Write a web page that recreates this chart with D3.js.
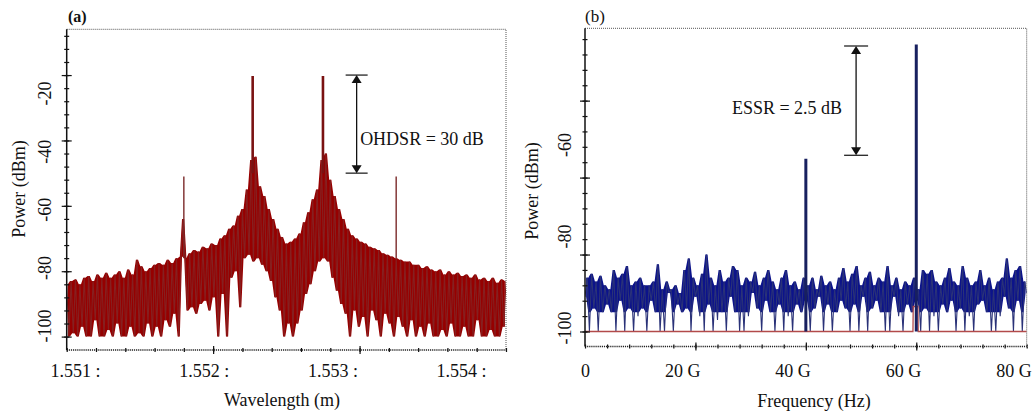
<!DOCTYPE html>
<html><head><meta charset="utf-8">
<script src="https://cdn.jsdelivr.net/npm/d3@7"></script>
<style>
html,body{margin:0;padding:0;background:#fff;}
svg{display:block;font-family:"Liberation Serif","Times New Roman",serif;}
</style></head><body>
<svg id="chart" width="1036" height="415"></svg>
<script>
// ---------- Panel (a): optical spectrum ----------
const aWlStart = 1.551, aWlStep = 0.000015;
const aPower = [
-84,-100,-83,-99,-82.5,-100,-84,-97,-82,-100,
-81.5,-100,-83,-95,-81,-100,-82,-100,-80.5,-98,
-82,-100,-81,-96,-80,-100,-82,-100,-79.5,-97,
-81,-100,-76.5,-99,-78.5,-100,-80,-96,-79,-100,
-78,-97,-77.5,-100,-78,-95,-76.5,-97,-77.5,-93,
-76,-100,-75.5,-64,-76,-92,-74.5,-91,-73.5,-93,
-74,-90,-72.5,-89,-73,-92,-71.5,-88,-72,-100,
-70,-87,-69,-100,-67,-82,-66,-80,-63,-91,
-61,-76,-55,-75,-46,-77,-45,-76,-54,-78,
-57,-80,-61,-83,-64,-88,-67,-92,-69.5,-100,
-71.5,-96,-71,-100,-70,-96,-68.5,-92,-65,-87,
-62,-84,-58,-80,-55,-77,-46,-76,-44,-77,
-52,-82,-57,-86,-61,-90,-64,-93,-67,-100,
-69,-92,-70,-97,-71,-94,-71.5,-100,-72.5,-92,
-73,-95,-73.5,-100,-74.5,-93,-75,-96,-75.5,-100,
-76,-94,-76.5,-97,-77,-100,-77,-95,-78,-100,
-78,-97,-79,-100,-78.5,-96,-79.5,-100,-80,-100,
-79.5,-98,-81,-100,-80,-96,-81,-100,-80.5,-100,
-81.5,-97,-81,-100,-82,-100,-81,-95,-82.5,-100,
-82,-100,-83,-98,-82,-100,-83.5,-100,-82.5,-97,
-83];
const aSpikeWl   = [1.55180, 1.55227, 1.55275, 1.55325];
const aSpikeTop  = [-51, -20.3, -20.3, -51];
const aSpikeBase = [-76, -50, -50, -76];
const aXTicks = [1.551, 1.552, 1.553, 1.554];
const aYTicks = [-20, -40, -60, -80, -100];
const aNoteWl = 1.55298, aNoteTop = -20, aNoteBottom = -50, aNoteTextDb = -39.5;
const aNoteText = "OHDSR = 30 dB";

// ---------- Panel (b): electrical spectrum ----------
const bFreqStep = 0.4e9;
const bPower = [
-91,-86,-100,-85,-94,-87,-100,-85.5,-95,-88,
-93,-89,-95,-84,-100,-86,-92,-85,-100,-83,
-94,-88,-100,-87,-96,-86,-94,-88,-100,-88,
-92,-87,-95,-82.5,-100,-89,-100,-87,-90,-89,
-100,-88,-93,-90,-95,-84,-94,-81,-100,-86,
-91,-88,-96,-85,-100,-80,-93,-86,-100,-88,
-97,-84,-95,-87,-100,-86,-91,-83,-95,-84,
-100,-88,-100,-86,-96,-87,-90,-84.5,-94,-88,
-100,-86,-92,-84,-95,-87,-100,-89,-93,-86,
-100,-84,-96,-88,-100,-87,-93,-89,-95,-86,
-92,-88,-100,-86,-94,-89,-91,-85.5,-100,-88,
-93,-87,-100,-89,-95,-86,-92,-83.5,-94,-87,
-100,-85,-93,-83,-100,-88,-91,-86,-100,-84.5,
-94,-88,-92,-86,-95,-87,-100,-83,-100,-88,
-91,-86,-96,-89,-100,-87,-93,-88,-95,-86,
-92,-89,-100,-84,-94,-85,-100,-84,-96,-87,
-100,-88,-93,-86,-95,-83.5,-92,-87,-100,-88,
-94,-83,-100,-86,-96,-88,-100,-87,-93,-84,
-92,-88,-95,-86,-100,-89,-100,-87,-96,-86,
-91,-81,-94,-86,-100,-84,-92,-83,-100,-87,
-90];
const bSpikeFreq = [40e9, 60e9];
const bSpikeTop  = [-55.1, -25.4];
const bRefFreq  = [0, 59.4e9, 59.45e9, 60.3e9, 60.35e9, 80e9];
const bRefPower = [-100, -100, -93.5, -93.5, -100, -100];
const bXTicks = [0, 20e9, 40e9, 60e9, 80e9];
const bYTicks = [-60, -80, -100];
const bNoteFreq = 49.1e9, bNoteTop = -25.8, bNoteBottom = -54.2, bNoteTextDb = -42;
const bNoteText = "ESSR = 2.5 dB";

// ---------- drawing ----------
const svg = d3.select("#chart");
const FONT = 18;

const xA = d3.scaleLinear().domain([1.551, 1.554]).range([66.7, 506]);
const yA = d3.scaleLinear().domain([-104.1, -6]).range([350, 29.3]);
const xALab = d3.scaleLinear().domain([1.551, 1.554]).range([75.5, 461.6]);
const yALab = d3.scaleLinear().domain([-100, -20]).range([326, 93.5]);

const xB = d3.scaleLinear().domain([0, 80e9]).range([585, 1026.7]);
const yB = d3.scaleLinear().domain([-103.9, -21.2]).range([346.5, 28.3]);
const yBLab = d3.scaleLinear().domain([-100, -60]).range([328, 145]);

const defs = svg.append("defs");
function clip(id, x, y) {
  defs.append("clipPath").attr("id", id).append("rect")
    .attr("x", x.range()[0]).attr("y", y.range()[1])
    .attr("width", x.range()[1] - x.range()[0]).attr("height", y.range()[0] - y.range()[1]);
}
clip("clipA", xA, yA);
clip("clipB", xB, yB);

function frame(x, y) {
  const [x0, x1] = x.range(), [y0, y1] = y.range();
  svg.append("path").attr("d", `M${x0},${y1}H${x1}V${y0}`)
    .attr("fill", "none").attr("stroke", "#555").attr("stroke-width", 1)
    .attr("stroke-dasharray", "1,1");
}

function leftAxis(y, x0, minor, major) {
  svg.append("line").attr("x1", x0).attr("x2", x0)
    .attr("y1", y.range()[0]).attr("y2", y.range()[1])
    .attr("stroke", "#111").attr("stroke-width", 1.5);
  [[minor, 2.5], [major, 5]].forEach(([vals, len]) => {
    [d3.axisLeft, d3.axisRight].forEach(ax => {
      svg.append("g").attr("transform", `translate(${x0},0)`).attr("color", "#111")
        .call(ax(y).tickValues(vals).tickSize(len).tickFormat(""))
        .call(g => g.select(".domain").remove())
        .selectAll("line").attr("stroke-width", 1.2);
    });
  });
}

function bottomAxis(x, y0, minor, major) {
  svg.append("line").attr("x1", x.range()[0]).attr("x2", x.range()[1])
    .attr("y1", y0).attr("y2", y0)
    .attr("stroke", "#222").attr("stroke-width", 1.3).attr("stroke-dasharray", "1.2,0.9");
  [[minor, 2], [major, 4]].forEach(([vals, len]) => {
    [d3.axisBottom, d3.axisTop].forEach(ax => {
      svg.append("g").attr("transform", `translate(0,${y0})`).attr("color", "#111")
        .call(ax(x).tickValues(vals).tickSize(len).tickFormat(""))
        .call(g => g.select(".domain").remove())
        .selectAll("line").attr("stroke-width", 1.2);
    });
  });
}

function arrow(g, x, yTop, yBot, half) {
  g.append("line").attr("x1", x - half).attr("x2", x + half).attr("y1", yTop).attr("y2", yTop)
    .attr("stroke", "#111").attr("stroke-width", 1.2);
  g.append("line").attr("x1", x - half).attr("x2", x + half).attr("y1", yBot).attr("y2", yBot)
    .attr("stroke", "#111").attr("stroke-width", 1.2);
  g.append("line").attr("x1", x).attr("x2", x).attr("y1", yTop + 6).attr("y2", yBot - 6)
    .attr("stroke", "#111").attr("stroke-width", 1.3);
  g.append("path").attr("d", `M${x},${yTop}L${x - 5},${yTop + 8}L${x + 5},${yTop + 8}Z`).attr("fill", "#111");
  g.append("path").attr("d", `M${x},${yBot}L${x - 5},${yBot - 8}L${x + 5},${yBot - 8}Z`).attr("fill", "#111");
}

function rotText(x, y, txt, size) {
  svg.append("text").attr("transform", `translate(${x},${y}) rotate(-90)`)
    .attr("text-anchor", "middle").attr("dominant-baseline", "central")
    .attr("font-size", size).attr("fill", "#111").text(txt);
}

// dense trace: solid band between neighbouring samples + the sample zigzag on top
function trace(g, values, xOf, y, floorClamp, fillCol, lineCol) {
  const pairs = d3.pairs(values);
  const band = d3.area()
    .x((p, i) => (xOf(i) + xOf(i + 1)) / 2)
    .y1(p => y(Math.max(p[0], p[1])))
    .y0(p => y(Math.max(Math.min(p[0], p[1]), floorClamp)));
  g.append("path").datum(pairs).attr("d", band).attr("fill", fillCol);
  const line = d3.line().x((d, i) => xOf(i)).y(d => y(d));
  g.append("path").datum(values).attr("d", line)
    .attr("fill", "none").attr("stroke", lineCol).attr("stroke-width", 1.1)
    .attr("stroke-linejoin", "bevel");
}

// ===== Panel (a) =====
frame(xA, yA);
const gA = svg.append("g").attr("clip-path", "url(#clipA)");
trace(gA, aPower, i => xA(aWlStart + i * aWlStep), yA, -100, "#960000", "#862020");
gA.selectAll("line.spk").data(aSpikeWl).join("line").attr("class", "spk")
  .attr("x1", d => xA(d)).attr("x2", d => xA(d))
  .attr("y1", (d, i) => yA(aSpikeBase[i])).attr("y2", (d, i) => yA(aSpikeTop[i]))
  .attr("stroke", (d, i) => aSpikeTop[i] > -30 ? "#7a1212" : "#7b2a2a")
  .attr("stroke-width", (d, i) => aSpikeTop[i] > -30 ? 2.6 : 1.4);

leftAxis(yA, xA.range()[0], d3.range(-100, -6, 4), [-100, -80, -60, -40, -20]);
bottomAxis(xA, yA.range()[0], d3.range(16).map(k => 1.551 + k * 0.0002), [1.552, 1.553]);

svg.selectAll("text.ayl").data(aYTicks).join("text").attr("class", "ayl")
  .attr("transform", d => `translate(45,${yALab(d)}) rotate(-90)`)
  .attr("text-anchor", "middle").attr("dominant-baseline", "central")
  .attr("font-size", FONT).attr("fill", "#111").text(d => d);
svg.selectAll("text.axl").data(aXTicks).join("text").attr("class", "axl")
  .attr("x", d => xALab(d)).attr("y", 371)
  .attr("text-anchor", "middle").attr("dominant-baseline", "central")
  .attr("font-size", FONT).attr("fill", "#111").text(d => d3.format(".3f")(d) + " :");

arrow(svg.append("g"), xA(aNoteWl), yA(aNoteTop), yA(aNoteBottom), 11);
svg.append("text").attr("x", xA(aNoteWl) + 3.5).attr("y", yA(aNoteTextDb))
  .attr("dominant-baseline", "central").attr("font-size", FONT).attr("fill", "#111").text(aNoteText);

svg.append("text").attr("x", 282).attr("y", 400).attr("text-anchor", "middle")
  .attr("dominant-baseline", "central").attr("font-size", FONT).attr("fill", "#111").text("Wavelength (m)");
rotText(19, 189, "Power (dBm)", FONT);
svg.append("text").attr("x", 68).attr("y", 22).attr("font-size", 16).attr("font-weight", "bold")
  .attr("fill", "#111").text("(a)");

// ===== Panel (b) =====
frame(xB, yB);
const gB = svg.append("g").attr("clip-path", "url(#clipB)");
trace(gB, bPower, i => xB(i * bFreqStep), yB, -95, "#0c138a", "#2a3278");
const lineRef = d3.line().x((d, i) => xB(bRefFreq[i])).y(d => yB(d));
gB.append("path").datum(bRefPower).attr("d", lineRef)
  .attr("fill", "none").attr("stroke", "#b24a4a").attr("stroke-width", 1.3);
gB.selectAll("line.spk").data(bSpikeFreq).join("line").attr("class", "spk")
  .attr("x1", d => xB(d)).attr("x2", d => xB(d))
  .attr("y1", yB(-100)).attr("y2", (d, i) => yB(bSpikeTop[i]))
  .attr("stroke", "#18205f").attr("stroke-width", 3);

leftAxis(yB, xB.range()[0], d3.range(-100, -21, 4), [-100, -80, -60, -40]);
bottomAxis(xB, yB.range()[0], d3.range(21).map(k => k * 4e9), [20e9, 40e9, 60e9]);

svg.selectAll("text.byl").data(bYTicks).join("text").attr("class", "byl")
  .attr("transform", d => `translate(565,${yBLab(d)}) rotate(-90)`)
  .attr("text-anchor", "middle").attr("dominant-baseline", "central")
  .attr("font-size", FONT).attr("fill", "#111").text(d => d);
svg.selectAll("text.bxl").data(bXTicks).join("text").attr("class", "bxl")
  .attr("x", d => xB(d) + 5).attr("y", 371)
  .attr("text-anchor", "end").attr("dominant-baseline", "central")
  .attr("font-size", FONT).attr("fill", "#111").text(d => d === 0 ? "0" : (d / 1e9) + " G");

arrow(svg.append("g"), xB(bNoteFreq), yB(bNoteTop), yB(bNoteBottom), 12);
svg.append("text").attr("x", xB(bNoteFreq) - 14).attr("y", yB(bNoteTextDb))
  .attr("text-anchor", "end").attr("dominant-baseline", "central")
  .attr("font-size", FONT).attr("fill", "#111").text(bNoteText);

svg.append("text").attr("x", 814).attr("y", 401).attr("text-anchor", "middle")
  .attr("dominant-baseline", "central").attr("font-size", FONT).attr("fill", "#111").text("Frequency (Hz)");
rotText(532, 191, "Power (dBm)", FONT);
svg.append("text").attr("x", 585).attr("y", 22).attr("font-size", 17)
  .attr("fill", "#111").text("(b)");
</script>
</body></html>
